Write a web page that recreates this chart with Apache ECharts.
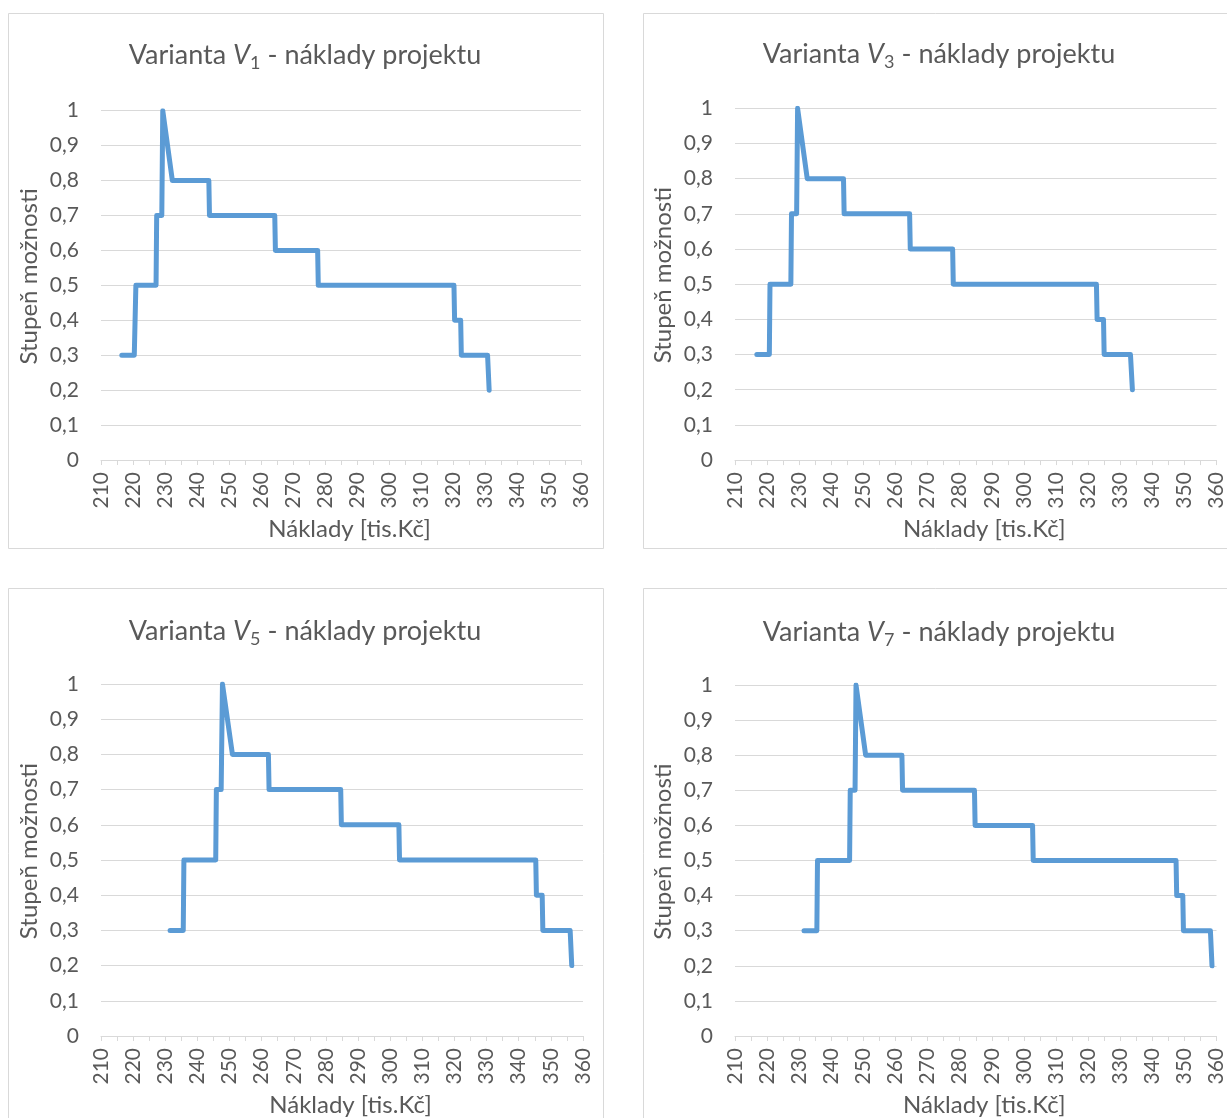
<!DOCTYPE html>
<html>
<head>
<meta charset="utf-8">
<script src="https://cdn.jsdelivr.net/npm/echarts@6/dist/echarts.min.js"></script>
<style>
html,body{margin:0;padding:0;background:#fff;}
#c{width:1227px;height:1118px;}
</style>
</head>
<body>
<div id="c"></div>
<script>
// ---- data ----
const variantIndex = ['1', '3', '5', '7'];
const v1Cost   = [216.5, 220.4, 220.9, 227.2, 227.4, 229.0, 229.3, 232.3, 243.7, 243.9, 264.3, 264.5, 277.7, 277.9, 320.3, 320.5, 322.4, 322.6, 330.8, 331.3];
const v1Degree = [0.3, 0.3, 0.5, 0.5, 0.7, 0.7, 1.0, 0.8, 0.8, 0.7, 0.7, 0.6, 0.6, 0.5, 0.5, 0.4, 0.4, 0.3, 0.3, 0.2];
const v3Cost   = [216.8, 220.7, 220.9, 227.4, 227.6, 229.2, 229.5, 232.5, 243.8, 244.0, 264.4, 264.6, 277.8, 278.0, 322.6, 322.8, 324.8, 325.0, 333.2, 333.8];
const v3Degree = [0.3, 0.3, 0.5, 0.5, 0.7, 0.7, 1.0, 0.8, 0.8, 0.7, 0.7, 0.6, 0.6, 0.5, 0.5, 0.4, 0.4, 0.3, 0.3, 0.2];
const v5Cost   = [231.5, 235.6, 235.8, 245.7, 245.9, 247.4, 247.8, 250.9, 262.1, 262.3, 284.6, 284.8, 302.7, 302.9, 345.3, 345.5, 347.3, 347.5, 356.0, 356.5];
const v5Degree = [0.3, 0.3, 0.5, 0.5, 0.7, 0.7, 1.0, 0.8, 0.8, 0.7, 0.7, 0.6, 0.6, 0.5, 0.5, 0.4, 0.4, 0.3, 0.3, 0.2];
const v7Cost   = [231.5, 235.5, 235.7, 245.7, 245.9, 247.4, 247.7, 250.7, 262.0, 262.2, 284.6, 284.8, 302.7, 302.9, 347.4, 347.6, 349.5, 349.7, 358.1, 358.6];
const v7Degree = [0.3, 0.3, 0.5, 0.5, 0.7, 0.7, 1.0, 0.8, 0.8, 0.7, 0.7, 0.6, 0.6, 0.5, 0.5, 0.4, 0.4, 0.3, 0.3, 0.2];
const xMin = 210, xMax = 360, xStep = 5, xLabelStep = 10;
const yMin = 0, yMax = 1, yStep = 0.1;
const titleMain = 'Varianta ';
const titleRest = ' - náklady projektu';
const xName = 'Náklady [tis.Kč]';
const yName = 'Stupeň možnosti';

const costs = [v1Cost, v3Cost, v5Cost, v7Cost];
const degrees = [v1Degree, v3Degree, v5Degree, v7Degree];

// ---- layout ----
const FONT = 'Lato';
const TXT = '#595959';
const GRIDC = '#d9d9d9';
const grids = [
  {left: 101, top: 110.7, width: 480, height: 349.3},
  {left: 735, top: 108.3, width: 482, height: 351.8},
  {left: 101, top: 684, width: 482, height: 353.3},
  {left: 735, top: 685, width: 482, height: 353}
];
const boxes = [
  {x: 8.5, y: 13.5, w: 595, h: 535},
  {x: 643.5, y: 13.5, w: 600, h: 535},
  {x: 8.5, y: 588.5, w: 595, h: 540},
  {x: 643.5, y: 588.5, w: 600, h: 540}
];
const titleCenters = [[300, 34], [934, 33], [300, 610], [934, 611]];

const option = {
  animation: false,
  backgroundColor: '#fff',
  graphic: boxes.map(b => ({
    type: 'rect', shape: {x: b.x, y: b.y, width: b.w, height: b.h},
    style: {fill: 'none', stroke: GRIDC, lineWidth: 1}, silent: true, z: -1
  })),
  title: variantIndex.map((n, i) => ({
    text: '{n|' + titleMain + '}{v|V}{s|' + n + '}{n|' + titleRest + '}',
    left: titleCenters[i][0], top: titleCenters[i][1], textAlign: 'center',
    textStyle: {
      fontWeight: 'normal',
      rich: {
        n: {fontFamily: FONT, fontSize: 27, fontWeight: 'normal', color: TXT, lineHeight: 33},
        v: {fontFamily: FONT, fontSize: 27, fontWeight: 'normal', color: TXT, fontStyle: 'italic', lineHeight: 33},
        s: {fontFamily: FONT, fontSize: 18, fontWeight: 'normal', color: TXT, lineHeight: 18, verticalAlign: 'bottom'}
      }
    }
  })),
  grid: grids.map(g => Object.assign({containLabel: false}, g)),
  xAxis: grids.map((g, i) => ({
    type: 'value', gridIndex: i, min: xMin, max: xMax, interval: xStep,
    name: xName, nameLocation: 'middle', nameGap: 57,
    nameTextStyle: {fontFamily: FONT, fontSize: 24, color: TXT, padding: [0, 0, 0, 17]},
    axisLine: {show: true, lineStyle: {color: GRIDC, width: 1}},
    axisTick: {show: true, length: 5, lineStyle: {color: GRIDC}},
    splitLine: {show: false},
    axisLabel: {
      rotate: 90, margin: 12, fontFamily: FONT, fontSize: 21, color: TXT,
      formatter: v => (Math.round(v) % xLabelStep === 0 ? String(Math.round(v)) : '')
    }
  })),
  yAxis: grids.map((g, i) => ({
    type: 'value', gridIndex: i, min: yMin, max: yMax, interval: yStep,
    name: yName, nameLocation: 'middle', nameGap: 60, nameRotate: 90,
    nameTextStyle: {fontFamily: FONT, fontSize: 24, color: TXT, padding: [0, 0, 0, 18]},
    axisLine: {show: false}, axisTick: {show: false},
    splitLine: {show: true, lineStyle: {color: GRIDC, width: 1}},
    axisLabel: {
      margin: 22, fontFamily: FONT, fontSize: 21, color: TXT,
      formatter: v => (Math.round(v * 10) / 10).toString().replace('.', ',')
    }
  })),
  series: costs.map((c, i) => ({
    type: 'line', xAxisIndex: i, yAxisIndex: i,
    data: c.map((x, k) => [x, degrees[i][k]]),
    showSymbol: false, symbol: 'none',
    lineStyle: {color: '#5B9BD5', width: 5, cap: 'round', join: 'round'},
    itemStyle: {color: '#5B9BD5'}
  }))
};

const chart = echarts.init(document.getElementById('c'), null, {renderer: 'canvas'});
chart.setOption(option);
</script>
</body>
</html>
